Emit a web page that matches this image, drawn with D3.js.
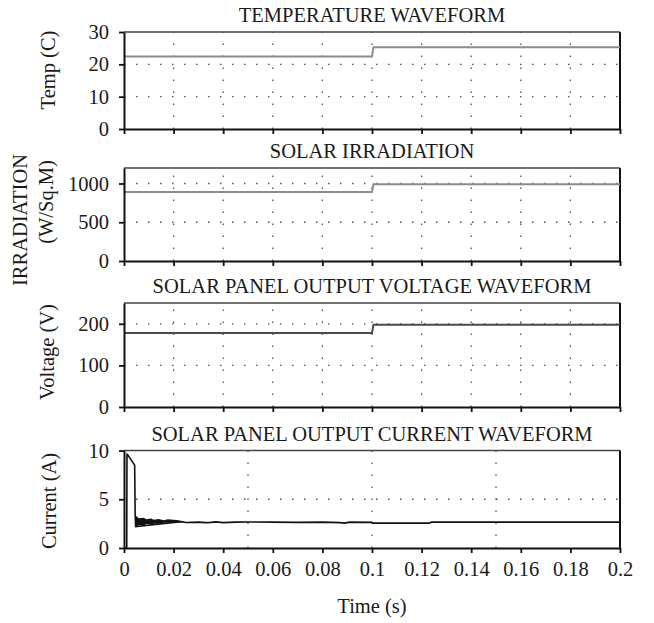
<!DOCTYPE html>
<meta charset="utf-8">
<head>
<style>
body { margin: 0; background: #fff; }
svg text { font-family: "Liberation Serif", "Times New Roman", serif; fill: #1a1a1a; }
</style>
</head>
<body>
<script src="https://d3js.org/d3.v7.min.js"></script>
<script>

// time axis
var timeTicks = [0, 0.02, 0.04, 0.06, 0.08, 0.1, 0.12, 0.14, 0.16, 0.18, 0.2];
var timeGridFine = [0.02, 0.04, 0.06, 0.08, 0.1, 0.12, 0.14, 0.16, 0.18];
var timeGridCoarse = [0.05, 0.1, 0.15];

// temperature (C)
var tempT = [0, 0.1, 0.1006, 0.2];
var tempV = [22.4, 22.4, 25.3, 25.3];

// irradiation (W/Sq.M)
var irrT = [0, 0.1, 0.1006, 0.2];
var irrV = [890, 890, 990, 990];

// panel voltage (V)
var voltT = [0, 0.1, 0.1006, 0.2];
var voltV = [178, 178, 198, 198];

// panel current (A)
var curT = [0, 0.0011, 0.0012, 0.0015, 0.0043, 0.0045, 0.0047, 0.023, 0.025, 0.03, 0.033, 0.035, 0.037, 0.04, 0.045, 0.05, 0.06, 0.07, 0.08, 0.087, 0.089, 0.091, 0.1, 0.1005, 0.123, 0.124, 0.2];
var curI = [0, 0, 9.6, 9.55, 8.5, 3.3, 2.2, 2.7, 2.62, 2.65, 2.6, 2.63, 2.68, 2.6, 2.65, 2.67, 2.65, 2.63, 2.65, 2.6, 2.55, 2.65, 2.63, 2.55, 2.55, 2.65, 2.65];
// envelope of the fast ripple right after start-up
var bandT = [0.0045, 0.005, 0.006, 0.008, 0.009, 0.011, 0.012, 0.014, 0.016, 0.0177, 0.02, 0.022, 0.024];
var bandHi = [3.3, 3.25, 3.05, 3.1, 2.95, 3.03, 2.9, 2.98, 2.85, 2.96, 2.9, 2.85, 2.7];
var bandLo = [2.15, 2.17, 2.35, 2.3, 2.45, 2.44, 2.5, 2.5, 2.6, 2.58, 2.6, 2.62, 2.66];

var W = 654, H = 623, FS = 20.5;
var svg = d3.select("body").append("svg")
    .attr("width", W)
    .attr("height", H);

svg.append("rect").attr("width", W).attr("height", H).attr("fill", "#fff");

var x = d3.scaleLinear().domain([0, 0.2]).range([124, 620]);

var panels = [
  {title: "TEMPERATURE WAVEFORM", top: 32, bottom: 129, max: 30, ticks: [0, 10, 20, 30], grid: [10, 20], vgrid: timeGridFine,
   t: tempT, v: tempV, color: "#8c8c8c", labels: [{s: "Temp (C)", x: 55, y: 70}]},
  {title: "SOLAR IRRADIATION", top: 168, bottom: 261, max: 1200, ticks: [0, 500, 1000], grid: [500, 1000], vgrid: timeGridFine,
   t: irrT, v: irrV, color: "#8c8c8c", labels: [{s: "IRRADIATION", x: 27, y: 220}, {s: "(W/Sq.M)", x: 53, y: 202}]},
  {title: "SOLAR PANEL OUTPUT VOLTAGE WAVEFORM", top: 303, bottom: 407, max: 250, ticks: [0, 100, 200], grid: [100, 200], vgrid: timeGridFine,
   t: voltT, v: voltV, color: "#4a4a4a", labels: [{s: "Voltage (V)", x: 54, y: 352}]},
  {title: "SOLAR PANEL OUTPUT CURRENT WAVEFORM", top: 450.5, bottom: 548, max: 10, ticks: [0, 5, 10], grid: [5], vgrid: timeGridCoarse,
   t: curT, v: curI, color: "#111", labels: [{s: "Current (A)", x: 56, y: 501}], last: true}
];

panels.forEach(function(p) {
  var y = d3.scaleLinear().domain([0, p.max]).range([p.bottom, p.top]);
  var g = svg.append("g");

  // dotted grid
  g.selectAll(".hg").data(p.grid).enter().append("line")
    .attr("x1", x(0)).attr("x2", x(0.2))
    .attr("y1", function(d) { return y(d); }).attr("y2", function(d) { return y(d); })
    .attr("stroke", "#555").attr("stroke-width", 1.3)
    .attr("stroke-dasharray", "1.5,10.5");
  g.selectAll(".vg").data(p.vgrid).enter().append("line")
    .attr("x1", function(d) { return x(d); }).attr("x2", function(d) { return x(d); })
    .attr("y1", p.bottom).attr("y2", p.top)
    .attr("stroke", "#555").attr("stroke-width", 1.3)
    .attr("stroke-dasharray", "1.5,10.5");

  // frame top / right
  g.append("line").attr("x1", x(0)).attr("x2", x(0.2)).attr("y1", p.top).attr("y2", p.top)
    .attr("stroke", "#444").attr("stroke-width", 1.5);
  g.append("line").attr("x1", x(0.2)).attr("x2", x(0.2)).attr("y1", p.top).attr("y2", p.bottom)
    .attr("stroke", "#111").attr("stroke-width", 2);

  // ripple envelope (current only)
  if (p.last) {
    var area = d3.area()
      .x(function(d, i) { return x(bandT[i]); })
      .y0(function(d, i) { return y(bandLo[i]); })
      .y1(function(d, i) { return y(bandHi[i]); });
    g.append("path").datum(bandT).attr("fill", "#111").attr("d", area);
  }

  var line = d3.line()
    .x(function(d) { return x(d[0]); })
    .y(function(d) { return y(d[1]); });
  g.append("path").datum(d3.zip(p.t, p.v))
    .attr("fill", "none").attr("stroke", p.color)
    .attr("stroke-width", p.last ? 1.6 : 2)
    .attr("d", line);

  // axes
  var ya = g.append("g").attr("transform", "translate(" + x(0) + ",0)")
    .call(d3.axisLeft(y).tickValues(p.ticks).tickSize(5).tickSizeOuter(0).tickPadding(10).tickFormat(d3.format("d")));
  var xa = g.append("g").attr("transform", "translate(0," + p.bottom + ")")
    .call(d3.axisBottom(x).tickValues(timeTicks).tickSize(5).tickSizeOuter(0).tickPadding(8)
      .tickFormat(p.last ? d3.format("~g") : function() { return ""; }));
  [ya, xa].forEach(function(a) {
    a.select(".domain").attr("stroke", "#111").attr("stroke-width", 2);
    a.selectAll(".tick line").attr("stroke", "#111").attr("stroke-width", 1.8);
    a.selectAll("text").attr("font-size", FS).attr("font-family", null).attr("fill", null);
  });

  // title
  svg.append("text").attr("x", 372).attr("y", p.top - 10)
    .attr("text-anchor", "middle").attr("font-size", FS).text(p.title);

  p.labels.forEach(function(l) {
    svg.append("text")
      .attr("transform", "translate(" + l.x + "," + l.y + ") rotate(-90)")
      .attr("text-anchor", "middle").attr("font-size", FS).text(l.s);
  });
});

svg.append("text").attr("x", 372).attr("y", 613)
  .attr("text-anchor", "middle").attr("font-size", FS).text("Time (s)");

</script>
</body>
